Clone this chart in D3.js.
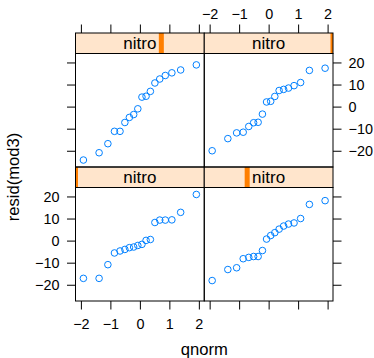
<!DOCTYPE html>
<html>
<head>
<meta charset="utf-8">
<script src="https://cdn.jsdelivr.net/npm/d3@7"></script>
<style>
  body { margin: 0; background: #fff; }
  text { font-family: "Liberation Sans", Arial, sans-serif; fill: #000; }
</style>
</head>
<body>
<div id="chart"></div>
<script>
// theoretical normal quantiles for 18 points (qnorm(ppoints(18)))
const qnormX = [-1.915, -1.383, -1.085, -0.862, -0.674, -0.509, -0.356, -0.210, -0.070,
                0.070, 0.210, 0.356, 0.509, 0.674, 0.862, 1.085, 1.383, 1.915];

const nitroLevels = [0, 0.2, 0.4, 0.6];

// sorted residuals per nitro level
const resid00 = [-17.1, -17.1, -10.9, -5.6, -4.7, -4.0, -3.2, -2.9, -2.2,
                 -1.7, 0.1, 0.5, 8.2, 9.3, 9.3, 9.4, 12.8, 20.9];
const resid02 = [-18.1, -13.1, -12.3, -8.2, -7.6, -7.2, -7.2, -4.5, 0.7,
                 2.3, 3.6, 5.2, 6.6, 7.5, 8.0, 10.0, 16.4, 18.1];
const resid04 = [-24.2, -20.9, -16.8, -11.2, -11.2, -7.2, -4.9, -3.6, -1.0,
                 4.3, 4.7, 6.9, 10.7, 12.5, 14.1, 15.3, 16.6, 18.9];
const resid06 = [-20.0, -14.5, -11.9, -11.6, -9.0, -7.3, -7.1, -3.4, 2.1,
                 2.4, 4.6, 7.3, 7.8, 8.4, 9.5, 10.9, 16.4, 17.4];

const xTicks = [-2, -1, 0, 1, 2];
const yTicks = [-20, -10, 0, 10, 20];

const width = 374, height = 358;
const panelLeft = 75.5, pw = 128.75;
const panelTop = 33, stripH = 20.5, ph = 113.5;
const tick = 8.5;
const fmt = d3.format("d");

const svg = d3.select("#chart").append("svg")
  .attr("width", width)
  .attr("height", height);

// lattice-like 7% padding on both axes
function padded(ext) {
  const r = ext[1] - ext[0];
  return [ext[0] - 0.07 * r, ext[1] + 0.07 * r];
}
const allResid = resid00.concat(resid02, resid04, resid06);
const xDom = padded(d3.extent(qnormX));
const yDom = padded(d3.extent(allResid));

// panel order: bottom-left, bottom-right, top-left, top-right
const panels = [
  { level: nitroLevels[0], data: resid00, col: 0, row: 1 },
  { level: nitroLevels[1], data: resid02, col: 1, row: 1 },
  { level: nitroLevels[2], data: resid04, col: 0, row: 0 },
  { level: nitroLevels[3], data: resid06, col: 1, row: 0 }
];

const shingle = d3.scaleLinear().domain(d3.extent(nitroLevels));

panels.forEach((p, i) => {
  const x0 = panelLeft + p.col * pw;
  const sy = panelTop + p.row * (stripH + ph);
  const py = sy + stripH;

  const x = d3.scaleLinear().domain(xDom).range([x0, x0 + pw]);
  const y = d3.scaleLinear().domain(yDom).range([py + ph, py]);
  shingle.range([x0, x0 + pw]);

  const g = svg.append("g");

  // strip
  g.append("clipPath").attr("id", "clip" + i)
    .append("rect").attr("x", x0).attr("y", sy).attr("width", pw).attr("height", stripH);
  g.append("rect")
    .attr("x", x0).attr("y", sy).attr("width", pw).attr("height", stripH)
    .attr("fill", "#ffe5cc");
  g.append("rect")
    .attr("clip-path", "url(#clip" + i + ")")
    .attr("x", shingle(p.level) - 2.5).attr("y", sy)
    .attr("width", 5).attr("height", stripH)
    .attr("fill", "#ff7f00");
  g.append("text")
    .attr("x", x0 + pw / 2).attr("y", sy + stripH / 2 + 6)
    .attr("text-anchor", "middle")
    .attr("font-size", "17px")
    .text("nitro");
  g.append("rect")
    .attr("x", x0).attr("y", sy).attr("width", pw).attr("height", stripH)
    .attr("fill", "none").attr("stroke", "#000").attr("stroke-width", 1);

  // points
  g.selectAll("circle")
    .data(p.data)
    .enter()
    .append("circle")
    .attr("cx", (d, j) => x(qnormX[j]))
    .attr("cy", d => y(d))
    .attr("r", 3.3)
    .attr("fill", "none")
    .attr("stroke", "#0080ff")
    .attr("stroke-width", 1);

  // panel frame
  g.append("rect")
    .attr("x", x0).attr("y", py).attr("width", pw).attr("height", ph)
    .attr("fill", "none").attr("stroke", "#000").attr("stroke-width", 1);

  // axes (lattice alternating)
  const axisStyle = (labels) => (a) => {
    a.select(".domain").remove();
    a.selectAll(".tick line").attr("stroke", "#000");
    a.selectAll(".tick text").attr("font-size", "14.4px").attr("fill", "#000")
      .style("display", labels ? null : "none");
  };

  if (p.row === 1) {
    svg.append("g")
      .attr("transform", "translate(0," + (py + ph) + ")")
      .call(d3.axisBottom(x).tickValues(xTicks).tickFormat(fmt).tickSize(tick).tickPadding(9))
      .call(axisStyle(p.col === 0));
  } else {
    svg.append("g")
      .attr("transform", "translate(0," + sy + ")")
      .call(d3.axisTop(x).tickValues(xTicks).tickFormat(fmt).tickSize(tick).tickPadding(6))
      .call(axisStyle(p.col === 1));
  }
  if (p.col === 0) {
    svg.append("g")
      .attr("transform", "translate(" + x0 + ",0)")
      .call(d3.axisLeft(y).tickValues(yTicks).tickFormat(fmt).tickSize(tick).tickPadding(7.5))
      .call(axisStyle(p.row === 1));
  } else {
    svg.append("g")
      .attr("transform", "translate(" + (x0 + pw) + ",0)")
      .call(d3.axisRight(y).tickValues(yTicks).tickFormat(fmt).tickSize(tick).tickPadding(7))
      .call(axisStyle(p.row === 0));
  }
});

// axis titles
svg.append("text")
  .attr("x", panelLeft + pw)
  .attr("y", 355)
  .attr("text-anchor", "middle")
  .attr("font-size", "16.6px")
  .text("qnorm");

svg.append("text")
  .attr("transform", "translate(19,177) rotate(-90)")
  .attr("text-anchor", "middle")
  .attr("font-size", "16.6px")
  .text("resid(mod3)");
</script>
</body>
</html>
